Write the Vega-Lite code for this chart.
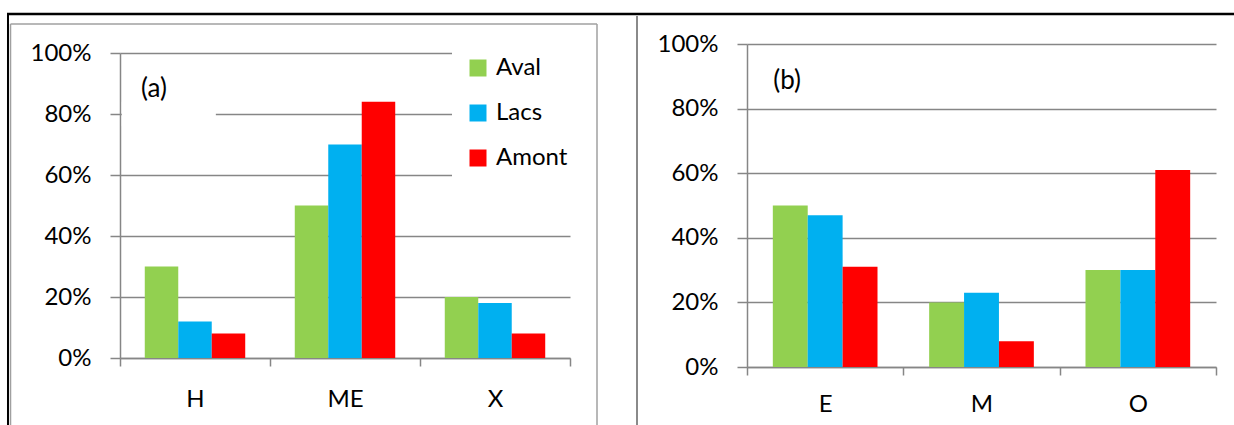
{
  "$schema": "https://vega.github.io/schema/vega-lite/v6.json",
  "background": "white",
  "padding": {"left": 5, "top": 12, "right": 0, "bottom": 0},
  "config": {
    "font": "Lato",
    "view": {"stroke": null},
    "axis": {
      "labelFont": "Lato",
      "labelFontSize": 24,
      "labelColor": "#000000",
      "domainColor": "#868686",
      "domainWidth": 1.5,
      "tickColor": "#868686",
      "tickWidth": 1.5,
      "gridColor": "#868686",
      "gridWidth": 1.5,
      "title": null
    }
  },
  "datasets": {
    "a": [
      {"cat": "H", "series": "Aval", "value": 0.30},
      {"cat": "H", "series": "Lacs", "value": 0.12},
      {"cat": "H", "series": "Amont", "value": 0.08},
      {"cat": "ME", "series": "Aval", "value": 0.50},
      {"cat": "ME", "series": "Lacs", "value": 0.70},
      {"cat": "ME", "series": "Amont", "value": 0.84},
      {"cat": "X", "series": "Aval", "value": 0.20},
      {"cat": "X", "series": "Lacs", "value": 0.18},
      {"cat": "X", "series": "Amont", "value": 0.08}
    ],
    "b": [
      {"cat": "E", "series": "Aval", "value": 0.50},
      {"cat": "E", "series": "Lacs", "value": 0.47},
      {"cat": "E", "series": "Amont", "value": 0.31},
      {"cat": "M", "series": "Aval", "value": 0.20},
      {"cat": "M", "series": "Lacs", "value": 0.23},
      {"cat": "M", "series": "Amont", "value": 0.08},
      {"cat": "O", "series": "Aval", "value": 0.30},
      {"cat": "O", "series": "Lacs", "value": 0.30},
      {"cat": "O", "series": "Amont", "value": 0.61}
    ],
    "one": [{"k": 1}]
  },
  "hconcat": [
    {
      "width": 450,
      "height": 305,
      "layer": [
        {
          "data": {"name": "a"},
          "mark": {"type": "bar"},
          "encoding": {
            "x": {
              "field": "cat", "type": "nominal", "sort": null,
              "scale": {"paddingInner": 0, "paddingOuter": 0},
              "axis": {"labelAngle": 0, "tickBand": "extent", "tickSize": 8, "labelPadding": 21, "grid": false, "domain": true}
            },
            "xOffset": {
              "field": "series", "type": "nominal", "sort": ["Aval", "Lacs", "Amont"],
              "scale": {"paddingInner": 0, "paddingOuter": 0.74}
            },
            "y": {
              "field": "value", "type": "quantitative",
              "scale": {"domain": [0, 1], "nice": false},
              "axis": {"values": [0, 0.2, 0.4, 0.6, 0.8, 1], "format": ".0%", "tickSize": 10, "labelPadding": 19, "grid": true}
            },
            "color": {
              "field": "series", "type": "nominal",
              "scale": {"domain": ["Aval", "Lacs", "Amont"], "range": ["#92D050", "#00B0F0", "#FF0000"]},
              "legend": {
                "title": null,
                "orient": "none",
                "legendX": 332,
                "legendY": -11,
                "padding": 14,
                "fillColor": "white",
                "symbolType": "square",
                "symbolSize": 289,
                "symbolStrokeWidth": 0,
                "labelFont": "Lato",
                "labelFontSize": 24,
                "labelColor": "#000000",
                "labelOffset": 6,
                "rowPadding": 21
              }
            }
          }
        },
        {
          "data": {"name": "one"},
          "mark": {"type": "rect", "fill": "white"},
          "encoding": {
            "x": {"datum": 0.004, "type": "quantitative", "scale": {"domain": [0, 1], "nice": false, "zero": false}, "axis": null},
            "x2": {"datum": 0.213},
            "y": {"datum": 0.76, "type": "quantitative"},
            "y2": {"datum": 0.84}
          }
        },
        {
          "data": {"name": "one"},
          "mark": {"type": "text", "text": "(a)", "fontSize": 26, "font": "Lato", "align": "left", "baseline": "middle", "color": "#000000"},
          "encoding": {
            "x": {"datum": 0.0467, "type": "quantitative", "scale": {"domain": [0, 1], "nice": false, "zero": false}, "axis": null},
            "y": {"datum": 0.8836, "type": "quantitative"}
          }
        },
        {
          "data": {"name": "one"},
          "mark": {"type": "rule", "color": "#000000", "strokeWidth": 2.5},
          "encoding": {
            "x": {"datum": -0.2511, "type": "quantitative", "scale": {"domain": [0, 1], "nice": false, "zero": false}, "axis": null},
            "x2": {"datum": 2.4778},
            "y": {"datum": 1.1279, "type": "quantitative"}
          }
        },
        {
          "data": {"name": "one"},
          "mark": {"type": "rule", "color": "#000000", "strokeWidth": 2},
          "encoding": {
            "x": {"datum": -0.2489, "type": "quantitative", "scale": {"domain": [0, 1], "nice": false, "zero": false}, "axis": null},
            "y": {"datum": 1.128, "type": "quantitative"},
            "y2": {"datum": -0.223}
          }
        },
        {
          "data": {"name": "one"},
          "mark": {"type": "rule", "color": "#a0a0a0", "strokeWidth": 1.5},
          "encoding": {
            "x": {"datum": -0.2433, "type": "quantitative", "scale": {"domain": [0, 1], "nice": false, "zero": false}, "axis": null},
            "y": {"datum": 1.0951, "type": "quantitative"},
            "y2": {"datum": -0.223}
          }
        },
        {
          "data": {"name": "one"},
          "mark": {"type": "rule", "color": "#a0a0a0", "strokeWidth": 1.5},
          "encoding": {
            "x": {"datum": -0.2433, "type": "quantitative", "scale": {"domain": [0, 1], "nice": false, "zero": false}, "axis": null},
            "x2": {"datum": 1.06},
            "y": {"datum": 1.0951, "type": "quantitative"}
          }
        },
        {
          "data": {"name": "one"},
          "mark": {"type": "rule", "color": "#a0a0a0", "strokeWidth": 1.5},
          "encoding": {
            "x": {"datum": 1.06, "type": "quantitative", "scale": {"domain": [0, 1], "nice": false, "zero": false}, "axis": null},
            "y": {"datum": 1.0951, "type": "quantitative"},
            "y2": {"datum": -0.223}
          }
        },
        {
          "data": {"name": "one"},
          "mark": {"type": "rule", "color": "#8a8a8a", "strokeWidth": 2},
          "encoding": {
            "x": {"datum": 1.1489, "type": "quantitative", "scale": {"domain": [0, 1], "nice": false, "zero": false}, "axis": null},
            "y": {"datum": 1.1213, "type": "quantitative"},
            "y2": {"datum": -0.223}
          }
        }
      ],
      "resolve": {"scale": {"x": "independent"}}
    },
    {
      "width": 469,
      "height": 323,
      "layer": [
        {
          "data": {"name": "b"},
          "mark": {"type": "bar"},
          "encoding": {
            "x": {
              "field": "cat", "type": "nominal", "sort": null,
              "scale": {"paddingInner": 0, "paddingOuter": 0},
              "axis": {"labelAngle": 0, "tickBand": "extent", "tickSize": 8, "labelPadding": 17, "grid": false, "domain": true}
            },
            "xOffset": {
              "field": "series", "type": "nominal", "sort": ["Aval", "Lacs", "Amont"],
              "scale": {"paddingInner": 0, "paddingOuter": 0.74}
            },
            "y": {
              "field": "value", "type": "quantitative",
              "scale": {"domain": [0, 1], "nice": false},
              "axis": {"values": [0, 0.2, 0.4, 0.6, 0.8, 1], "format": ".0%", "tickSize": 10, "labelPadding": 19, "grid": true}
            },
            "color": {
              "field": "series", "type": "nominal",
              "scale": {"domain": ["Aval", "Lacs", "Amont"], "range": ["#92D050", "#00B0F0", "#FF0000"]},
              "legend": null
            }
          }
        },
        {
          "data": {"name": "one"},
          "mark": {"type": "text", "text": "(b)", "fontSize": 26, "font": "Lato", "align": "left", "baseline": "middle", "color": "#000000"},
          "encoding": {
            "x": {"datum": 0.056, "type": "quantitative", "scale": {"domain": [0, 1], "nice": false, "zero": false}, "axis": null},
            "y": {"datum": 0.885, "type": "quantitative"}
          }
        }
      ],
      "resolve": {"scale": {"x": "independent"}}
    }
  ],
  "spacing": 177,
  "bounds": "flush",
  "center": true,
  "resolve": {
    "scale": {"x": "independent", "y": "independent", "color": "independent", "xOffset": "independent"},
    "legend": {"color": "independent"}
  }
}
